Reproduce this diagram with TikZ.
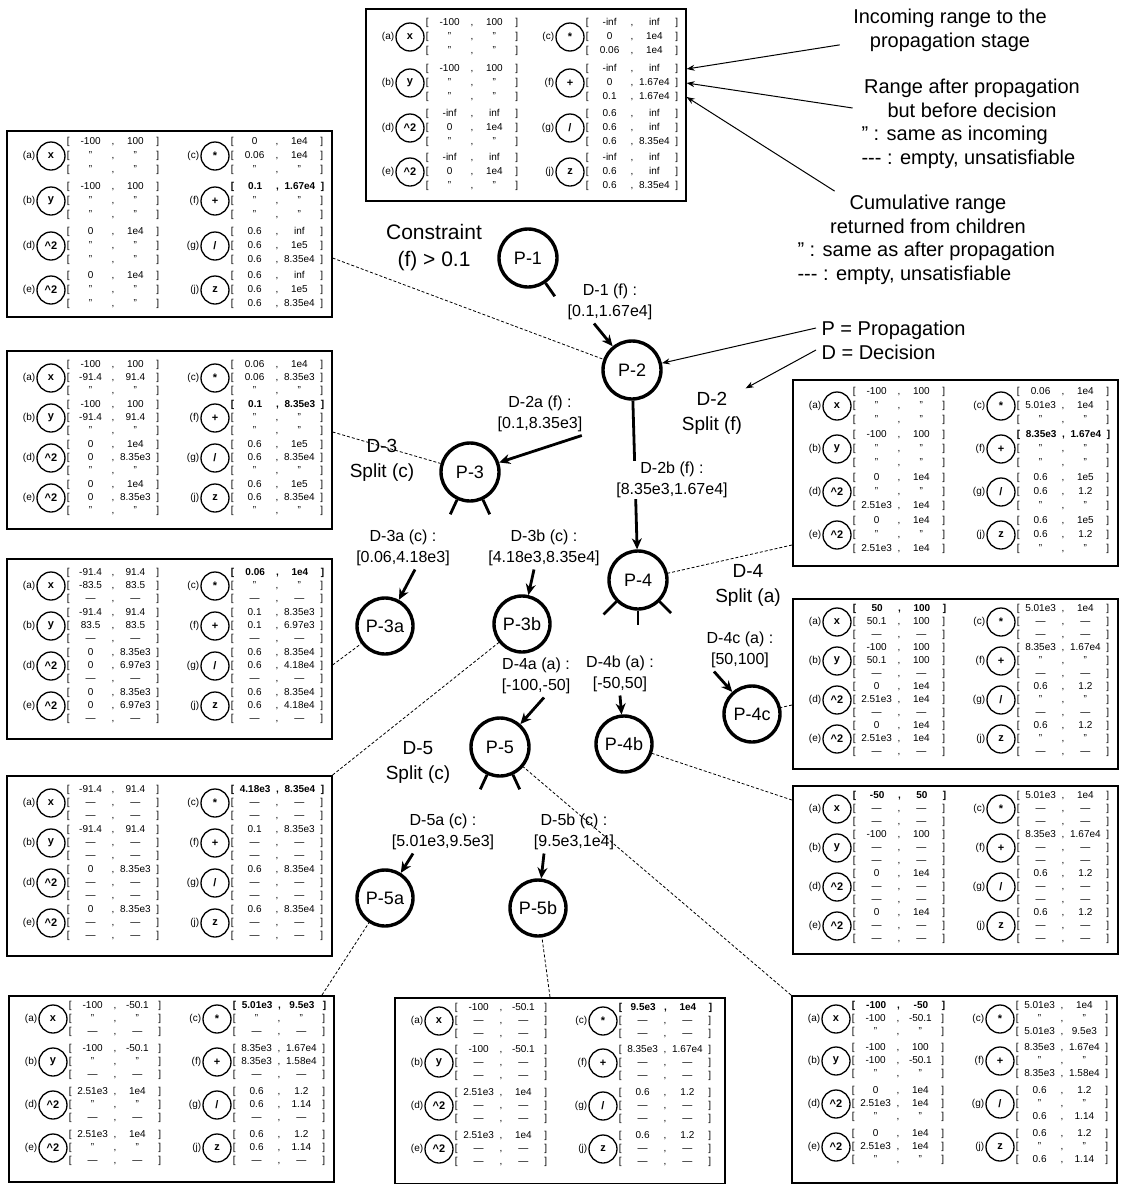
\documentclass[tikz,border=0pt]{standalone}
\usepackage{fontspec}
\setmainfont{Liberation Sans}
\usetikzlibrary{arrows.meta, positioning, calc}

% range columns
\newlength{\rw}
\setlength{\rw}{42pt}
\newcommand{\rng}[2]{[\makebox[\rw][c]{#1},\makebox[\rw][c]{#2}]}
\newcommand{\rngb}[2]{\textbf{\rng{#1}{#2}}}
\newcommand{\same}{\rng{"}{"}}
\newcommand{\ety}{\rng{\textemdash}{\textemdash}}
\newcommand{\sq}{\textasciicircum 2}

% one operator with its three ranges
\newcommand{\opentry}[8]{%
  \node[opc] (#1-#2) at (#4,#5) {#3};
  \node[optag, left=0pt of #1-#2] (#1-#2-t) {(#2)};
  \node[oprng, right=0pt of #1-#2] (#1-#2-r) {#6\\#7\\#8};
}

\tikzset{
  pnode/.style={circle, draw, line width=3.4pt, minimum size=58pt, inner sep=0pt, font=\fontsize{18}{20}\selectfont},
  opc/.style={circle, draw, line width=1.3pt, minimum size=28pt, inner sep=0pt, font=\bfseries\fontsize{11}{12}\selectfont},
  optag/.style={inner sep=1pt, font=\fontsize{10}{11}\selectfont},
  oprng/.style={inner sep=1pt, align=left, font=\fontsize{10}{13}\selectfont},
  rbox/.style={draw, line width=1.6pt, anchor=north west, inner sep=0pt},
  dlabel/.style={align=center, font=\fontsize{16}{21}\selectfont},
  slabel/.style={align=center, font=\fontsize{19}{25}\selectfont},
  note/.style={align=center, font=\fontsize{20}{24}\selectfont},
  edge/.style={->, line width=2.8pt},
  stub/.style={line width=2.8pt},
  dashline/.style={densely dashed, line width=0.8pt},
  pointer/.style={-{Stealth[length=8pt, width=6pt]}, line width=1pt},
}

\begin{document}
\begin{tikzpicture}[x=1pt, y=1pt, >={Stealth[length=11pt, width=10pt]}]
\useasboundingbox (0,0) rectangle (1120,-1184);

% ---------- range boxes ----------
% box of P-1
\node[rbox, minimum width=320pt, minimum height=192pt] (B-P1) at (365,-8) {};
\begin{scope}[shift={(365,-8)}, oprng/.append style={font=\fontsize{10}{14}\selectfont}]
\opentry{B1}{a}{x}{45}{-29}{\rng{-100}{100}}{\same}{\same}
\opentry{B1}{b}{y}{45}{-75}{\rng{-100}{100}}{\same}{\same}
\opentry{B1}{d}{\sq}{45}{-120}{\rng{-inf}{inf}}{\rng{0}{1e4}}{\same}
\opentry{B1}{e}{\sq}{45}{-164}{\rng{-inf}{inf}}{\rng{0}{1e4}}{\same}
\opentry{B1}{c}{*}{205}{-29}{\rng{-inf}{inf}}{\rng{0}{1e4}}{\rng{0.06}{1e4}}
\opentry{B1}{f}{+}{205}{-75}{\rng{-inf}{inf}}{\rng{0}{1.67e4}}{\rng{0.1}{1.67e4}}
\opentry{B1}{g}{/}{205}{-120}{\rng{0.6}{inf}}{\rng{0.6}{inf}}{\rng{0.6}{8.35e4}}
\opentry{B1}{j}{z}{205}{-164}{\rng{-inf}{inf}}{\rng{0.6}{inf}}{\rng{0.6}{8.35e4}}
\end{scope}

% box of P-2
\node[rbox, minimum width=325pt, minimum height=186pt] (B-P2) at (6,-130) {};
\begin{scope}[shift={(6,-130)}, oprng/.append style={font=\fontsize{10}{14}\selectfont}]
\opentry{B2}{a}{x}{45}{-26}{\rng{-100}{100}}{\same}{\same}
\opentry{B2}{b}{y}{45}{-71}{\rng{-100}{100}}{\same}{\same}
\opentry{B2}{d}{\sq}{45}{-116}{\rng{0}{1e4}}{\same}{\same}
\opentry{B2}{e}{\sq}{45}{-160}{\rng{0}{1e4}}{\same}{\same}
\opentry{B2}{c}{*}{209}{-26}{\rng{0}{1e4}}{\rng{0.06}{1e4}}{\same}
\opentry{B2}{f}{+}{209}{-71}{\rngb{0.1}{1.67e4}}{\same}{\same}
\opentry{B2}{g}{/}{209}{-116}{\rng{0.6}{inf}}{\rng{0.6}{1e5}}{\rng{0.6}{8.35e4}}
\opentry{B2}{j}{z}{209}{-160}{\rng{0.6}{inf}}{\rng{0.6}{1e5}}{\rng{0.6}{8.35e4}}
\end{scope}

% box of P-3
\node[rbox, minimum width=325pt, minimum height=178pt] (B-P3) at (6,-350) {};
\begin{scope}[shift={(6,-350)}]
\opentry{B3}{a}{x}{45}{-28}{\rng{-100}{100}}{\rng{-91.4}{91.4}}{\same}
\opentry{B3}{b}{y}{45}{-68}{\rng{-100}{100}}{\rng{-91.4}{91.4}}{\same}
\opentry{B3}{d}{\sq}{45}{-108}{\rng{0}{1e4}}{\rng{0}{8.35e3}}{\same}
\opentry{B3}{e}{\sq}{45}{-148}{\rng{0}{1e4}}{\rng{0}{8.35e3}}{\same}
\opentry{B3}{c}{*}{209}{-28}{\rng{0.06}{1e4}}{\rng{0.06}{8.35e3}}{\same}
\opentry{B3}{f}{+}{209}{-68}{\rngb{0.1}{8.35e3}}{\same}{\same}
\opentry{B3}{g}{/}{209}{-108}{\rng{0.6}{1e5}}{\rng{0.6}{8.35e4}}{\same}
\opentry{B3}{j}{z}{209}{-148}{\rng{0.6}{1e5}}{\rng{0.6}{8.35e4}}{\same}
\end{scope}

% box of P-3a
\node[rbox, minimum width=325pt, minimum height=180pt] (B-P3a) at (6,-558) {};
\begin{scope}[shift={(6,-558)}]
\opentry{B3a}{a}{x}{45}{-28}{\rng{-91.4}{91.4}}{\rng{-83.5}{83.5}}{\ety}
\opentry{B3a}{b}{y}{45}{-68}{\rng{-91.4}{91.4}}{\rng{83.5}{83.5}}{\ety}
\opentry{B3a}{d}{\sq}{45}{-108}{\rng{0}{8.35e3}}{\rng{0}{6.97e3}}{\ety}
\opentry{B3a}{e}{\sq}{45}{-148}{\rng{0}{8.35e3}}{\rng{0}{6.97e3}}{\ety}
\opentry{B3a}{c}{*}{209}{-28}{\rngb{0.06}{1e4}}{\same}{\ety}
\opentry{B3a}{f}{+}{209}{-68}{\rng{0.1}{8.35e3}}{\rng{0.1}{6.97e3}}{\ety}
\opentry{B3a}{g}{/}{209}{-108}{\rng{0.6}{8.35e4}}{\rng{0.6}{4.18e4}}{\ety}
\opentry{B3a}{j}{z}{209}{-148}{\rng{0.6}{8.35e4}}{\rng{0.6}{4.18e4}}{\ety}
\end{scope}

% box of P-3b
\node[rbox, minimum width=325pt, minimum height=180pt] (B-P3b) at (6,-775) {};
\begin{scope}[shift={(6,-775)}]
\opentry{B3b}{a}{x}{45}{-28}{\rng{-91.4}{91.4}}{\ety}{\ety}
\opentry{B3b}{b}{y}{45}{-68}{\rng{-91.4}{91.4}}{\ety}{\ety}
\opentry{B3b}{d}{\sq}{45}{-108}{\rng{0}{8.35e3}}{\ety}{\ety}
\opentry{B3b}{e}{\sq}{45}{-148}{\rng{0}{8.35e3}}{\ety}{\ety}
\opentry{B3b}{c}{*}{209}{-28}{\rngb{4.18e3}{8.35e4}}{\ety}{\ety}
\opentry{B3b}{f}{+}{209}{-68}{\rng{0.1}{8.35e3}}{\ety}{\ety}
\opentry{B3b}{g}{/}{209}{-108}{\rng{0.6}{8.35e4}}{\ety}{\ety}
\opentry{B3b}{j}{z}{209}{-148}{\rng{0.6}{8.35e4}}{\ety}{\ety}
\end{scope}

% box of P-4
\node[rbox, minimum width=325pt, minimum height=186pt] (B-P4) at (792,-379) {};
\begin{scope}[shift={(792,-379)}, oprng/.append style={font=\fontsize{10}{14}\selectfont}]
\opentry{B4}{a}{x}{45}{-27}{\rng{-100}{100}}{\same}{\same}
\opentry{B4}{b}{y}{45}{-70}{\rng{-100}{100}}{\same}{\same}
\opentry{B4}{d}{\sq}{45}{-113}{\rng{0}{1e4}}{\same}{\rng{2.51e3}{1e4}}
\opentry{B4}{e}{\sq}{45}{-156}{\rng{0}{1e4}}{\same}{\rng{2.51e3}{1e4}}
\opentry{B4}{c}{*}{209}{-27}{\rng{0.06}{1e4}}{\rng{5.01e3}{1e4}}{\same}
\opentry{B4}{f}{+}{209}{-70}{\rngb{8.35e3}{1.67e4}}{\same}{\same}
\opentry{B4}{g}{/}{209}{-113}{\rng{0.6}{1e5}}{\rng{0.6}{1.2}}{\same}
\opentry{B4}{j}{z}{209}{-156}{\rng{0.6}{1e5}}{\rng{0.6}{1.2}}{\same}
\end{scope}

% box of P-4c
\node[rbox, minimum width=325pt, minimum height=170pt] (B-P4c) at (792,-598) {};
\begin{scope}[shift={(792,-598)}]
\opentry{B4c}{a}{x}{45}{-24}{\rngb{50}{100}}{\rng{50.1}{100}}{\ety}
\opentry{B4c}{b}{y}{45}{-63}{\rng{-100}{100}}{\rng{50.1}{100}}{\ety}
\opentry{B4c}{d}{\sq}{45}{-102}{\rng{0}{1e4}}{\rng{2.51e3}{1e4}}{\ety}
\opentry{B4c}{e}{\sq}{45}{-141}{\rng{0}{1e4}}{\rng{2.51e3}{1e4}}{\ety}
\opentry{B4c}{c}{*}{209}{-24}{\rng{5.01e3}{1e4}}{\ety}{\ety}
\opentry{B4c}{f}{+}{209}{-63}{\rng{8.35e3}{1.67e4}}{\same}{\ety}
\opentry{B4c}{g}{/}{209}{-102}{\rng{0.6}{1.2}}{\same}{\ety}
\opentry{B4c}{j}{z}{209}{-141}{\rng{0.6}{1.2}}{\same}{\ety}
\end{scope}

% box of P-4b
\node[rbox, minimum width=325pt, minimum height=168pt] (B-P4b) at (792,-785) {};
\begin{scope}[shift={(792,-785)}]
\opentry{B4b}{a}{x}{45}{-24}{\rngb{-50}{50}}{\ety}{\ety}
\opentry{B4b}{b}{y}{45}{-63}{\rng{-100}{100}}{\ety}{\ety}
\opentry{B4b}{d}{\sq}{45}{-102}{\rng{0}{1e4}}{\ety}{\ety}
\opentry{B4b}{e}{\sq}{45}{-141}{\rng{0}{1e4}}{\ety}{\ety}
\opentry{B4b}{c}{*}{209}{-24}{\rng{5.01e3}{1e4}}{\ety}{\ety}
\opentry{B4b}{f}{+}{209}{-63}{\rng{8.35e3}{1.67e4}}{\ety}{\ety}
\opentry{B4b}{g}{/}{209}{-102}{\rng{0.6}{1.2}}{\ety}{\ety}
\opentry{B4b}{j}{z}{209}{-141}{\rng{0.6}{1.2}}{\ety}{\ety}
\end{scope}

% box of P-5a
\node[rbox, minimum width=325pt, minimum height=186pt] (B-P5a) at (8,-995) {};
\begin{scope}[shift={(8,-995)}]
\opentry{B5a}{a}{x}{45}{-24}{\rng{-100}{-50.1}}{\same}{\ety}
\opentry{B5a}{b}{y}{45}{-67}{\rng{-100}{-50.1}}{\same}{\ety}
\opentry{B5a}{d}{\sq}{45}{-110}{\rng{2.51e3}{1e4}}{\same}{\ety}
\opentry{B5a}{e}{\sq}{45}{-153}{\rng{2.51e3}{1e4}}{\same}{\ety}
\opentry{B5a}{c}{*}{209}{-24}{\rngb{5.01e3}{9.5e3}}{\same}{\ety}
\opentry{B5a}{f}{+}{209}{-67}{\rng{8.35e3}{1.67e4}}{\rng{8.35e3}{1.58e4}}{\ety}
\opentry{B5a}{g}{/}{209}{-110}{\rng{0.6}{1.2}}{\rng{0.6}{1.14}}{\ety}
\opentry{B5a}{j}{z}{209}{-153}{\rng{0.6}{1.2}}{\rng{0.6}{1.14}}{\ety}
\end{scope}

% box of P-5b
\node[rbox, minimum width=330pt, minimum height=186pt] (B-P5b) at (394,-997) {};
\begin{scope}[shift={(394,-997)}]
\opentry{B5b}{a}{x}{45}{-24}{\rng{-100}{-50.1}}{\ety}{\ety}
\opentry{B5b}{b}{y}{45}{-66}{\rng{-100}{-50.1}}{\ety}{\ety}
\opentry{B5b}{d}{\sq}{45}{-109}{\rng{2.51e3}{1e4}}{\ety}{\ety}
\opentry{B5b}{e}{\sq}{45}{-152}{\rng{2.51e3}{1e4}}{\ety}{\ety}
\opentry{B5b}{c}{*}{209}{-24}{\rngb{9.5e3}{1e4}}{\ety}{\ety}
\opentry{B5b}{f}{+}{209}{-66}{\rng{8.35e3}{1.67e4}}{\ety}{\ety}
\opentry{B5b}{g}{/}{209}{-109}{\rng{0.6}{1.2}}{\ety}{\ety}
\opentry{B5b}{j}{z}{209}{-152}{\rng{0.6}{1.2}}{\ety}{\ety}
\end{scope}

% box of P-5
\node[rbox, minimum width=325pt, minimum height=187pt] (B-P5) at (791,-995) {};
\begin{scope}[shift={(791,-995)}]
\opentry{B5}{a}{x}{45}{-24}{\rngb{-100}{-50}}{\rng{-100}{-50.1}}{\same}
\opentry{B5}{b}{y}{45}{-66}{\rng{-100}{100}}{\rng{-100}{-50.1}}{\same}
\opentry{B5}{d}{\sq}{45}{-109}{\rng{0}{1e4}}{\rng{2.51e3}{1e4}}{\same}
\opentry{B5}{e}{\sq}{45}{-152}{\rng{0}{1e4}}{\rng{2.51e3}{1e4}}{\same}
\opentry{B5}{c}{*}{209}{-24}{\rng{5.01e3}{1e4}}{\same}{\rng{5.01e3}{9.5e3}}
\opentry{B5}{f}{+}{209}{-66}{\rng{8.35e3}{1.67e4}}{\same}{\rng{8.35e3}{1.58e4}}
\opentry{B5}{g}{/}{209}{-109}{\rng{0.6}{1.2}}{\same}{\rng{0.6}{1.14}}
\opentry{B5}{j}{z}{209}{-152}{\rng{0.6}{1.2}}{\same}{\rng{0.6}{1.14}}
\end{scope}

% ---------- search tree ----------
\node[pnode] (P1) at (528,-258) {P-1};
\node[pnode] (P2) at (632,-370) {P-2};
\node[pnode] (P3) at (470,-472) {P-3};
\node[pnode] (P4) at (638,-580) {P-4};
\node[pnode, minimum size=56pt] (P3a) at (385,-626) {P-3a};
\node[pnode, minimum size=56pt] (P3b) at (522,-624) {P-3b};
\node[pnode, minimum size=56pt] (P4c) at (752,-714) {P-4c};
\node[pnode, minimum size=56pt] (P4b) at (624,-744) {P-4b};
\node[pnode] (P5) at (500,-747) {P-5};
\node[pnode, minimum size=56pt] (P5a) at (385,-898) {P-5a};
\node[pnode, minimum size=56pt] (P5b) at (538,-908) {P-5b};

% decisions
\node[slabel, font=\fontsize{21}{27}\selectfont] (cons) at (434,-248) {Constraint\\(f) > 0.1};
\node[dlabel] (D1) at (610,-302) {D-1 (f) :\\{}[0.1,1.67e4]};
\node[dlabel] (D2a) at (540,-414) {D-2a (f) :\\{}[0.1,8.35e3]};
\node[slabel] (D2) at (712,-413) {D-2\\Split (f)};
\node[slabel] (D3) at (382,-460) {D-3\\Split (c)};
\node[dlabel] (D3a) at (403,-548) {D-3a (c) :\\{}[0.06,4.18e3]};
\node[dlabel] (D3b) at (544,-548) {D-3b (c) :\\{}[4.18e3,8.35e4]};
\node[slabel] (D4) at (748,-585) {D-4\\Split (a)};
\node[dlabel] (D4a) at (536,-676) {D-4a (a) :\\{}[-100,-50]};
\node[dlabel] (D4b) at (620,-674) {D-4b (a) :\\{}[-50,50]};
\node[dlabel] (D4c) at (740,-650) {D-4c (a) :\\{}[50,100]};
\node[slabel] (D5) at (418,-762) {D-5\\Split (c)};
\node[dlabel] (D5a) at (443,-832) {D-5a (c) :\\{}[5.01e3,9.5e3]};
\node[dlabel] (D5b) at (574,-832) {D-5b (c) :\\{}[9.5e3,1e4]};

% branch stubs
\draw[stub] (P1.-55) -- ++(-55:16);
\draw[stub] (P3.-115) -- ++(-115:16);
\draw[stub] (P3.-65) -- ++(-65:16);
\draw[stub] (P4.-135) -- ++(-135:18);
\draw[stub] (P4.-90) -- ++(-90:14);
\draw[stub] (P4.-45) -- ++(-45:16);
\draw[stub] (P5.-115) -- ++(-115:16);
\draw[stub] (P5.-65) -- ++(-65:16);

% branch arrows
\draw[edge] (P2) -- (P4);
\node[dlabel, fill=white, inner sep=1pt] (D2b) at (672,-480) {D-2b (f) :\\{}[8.35e3,1.67e4]};
\draw[edge] ([xshift=-16pt]D1.south) -- (P2);
\draw[edge] ([xshift=-4pt]D2a.south east) -- (P3);
\draw[edge] ([xshift=12pt]D3a.south) -- (P3a);
\draw[edge] ([xshift=-10pt]D3b.south) -- (P3b);
\draw[edge] ([xshift=8pt]D4a.south) -- (P5);
\draw[edge] (D4b.south) -- (P4b);
\draw[edge] ([xshift=-26pt]D4c.south) -- (P4c);
\draw[edge] ([xshift=-30pt]D5a.south) -- (P5a);
\draw[edge] ([xshift=-30pt]D5b.south) -- (P5b);

% box to node links
\draw[dashline] (B-P2.east |- 0,-258) -- (P2);
\draw[dashline] (B-P3.east |- 0,-432) -- (P3);
\draw[dashline] (B-P3a.east |- 0,-665) -- (P3a);
\draw[dashline] (B-P3b.north east) -- (P3b);
\draw[dashline] (B-P4.west |- 0,-545) -- (P4);
\draw[dashline] (B-P4c.west |- 0,-705) -- (P4c);
\draw[dashline] (B-P4b.west |- 0,-800) -- (P4b);
\draw[dashline] (B-P5a.north -| 322,0) -- (P5a);
\draw[dashline] (B-P5b.north -| 550,0) -- (P5b);
\draw[dashline] (B-P5.north west) -- (P5);

% ---------- legend ----------
\node[note] (inc) at (950,-30) {Incoming range to the\\propagation stage};
\node[note] (aft) at (972,-98) {Range after propagation\\but before decision};
\node[note, align=left, anchor=north west] (aftkey) at (858,-122) {" : same as incoming\\-{}-{}- : empty, unsatisfiable};
\node[note] (cum) at (928,-214) {Cumulative range\\returned from children};
\node[note, align=left, anchor=north west] (cumkey) at (794,-238) {" : same as after propagation\\-{}-{}- : empty, unsatisfiable};
\node[note, align=left, anchor=west] (pd) at (818,-340) {P = Propagation\\D = Decision};
\draw[pointer] ([xshift=-10pt, yshift=10pt]inc.south west) -- (B-P1.east |- 0,-69);
\draw[pointer] ([xshift=-8pt, yshift=-10pt]aft.west) -- (B-P1.east |- 0,-83);
\draw[pointer] ([xshift=8pt]cum.north west) -- (B-P1.east |- 0,-97);
\draw[pointer] ([xshift=-2pt, yshift=12pt]pd.west) -- (P2);
\draw[pointer] ([xshift=-2pt, yshift=-10pt]pd.west) -- (D2.north east);
\end{tikzpicture}
\end{document}
